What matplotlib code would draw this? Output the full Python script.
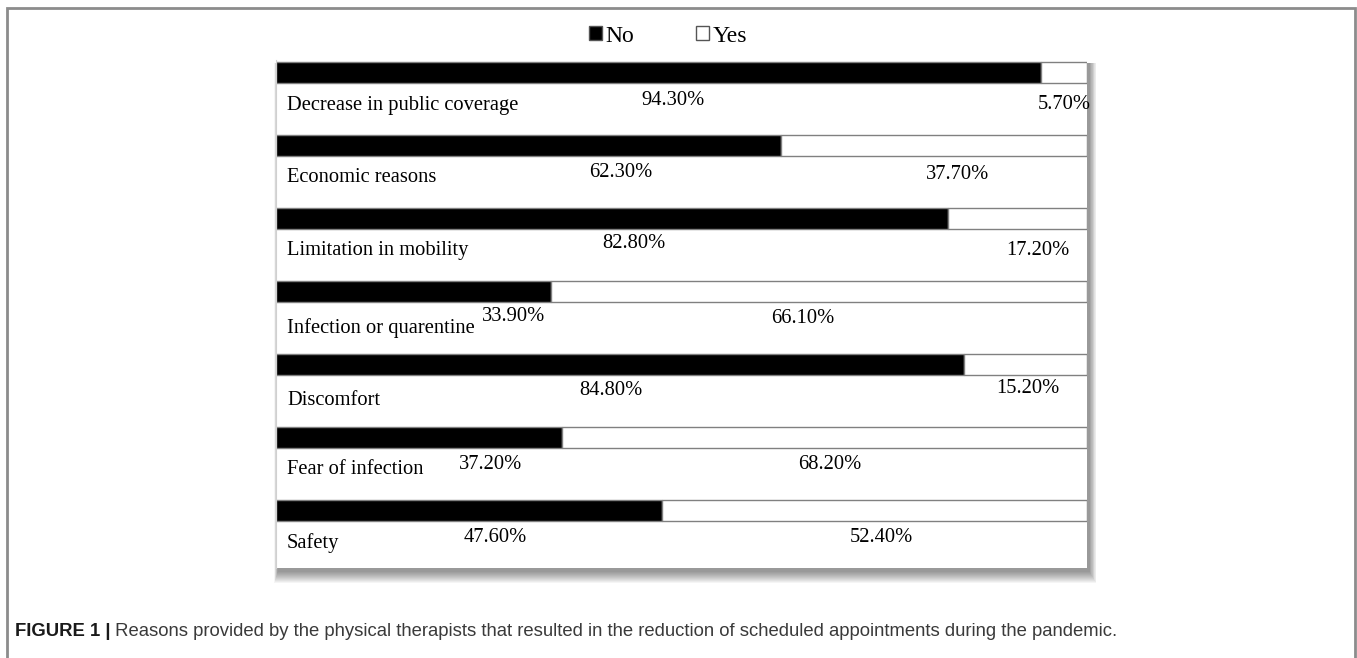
#!/usr/bin/python
"""Recreate the 'Reasons provided by the physical therapists' stacked bar figure."""

import matplotlib.pyplot as plt
from matplotlib.patches import Patch, Rectangle

categories = ['Decrease in public coverage', 'Economic reasons', 'Limitation in mobility',
              'Infection or quarentine', 'Discomfort', 'Fear of infection', 'Safety']
no_pct = [94.3, 62.3, 82.8, 33.9, 84.8, 37.2, 47.6]
yes_pct = [5.7, 37.7, 17.2, 66.1, 15.2, 68.2, 52.4]

# hand placed label spots (x in % of bar, y in px below bar centre), as in the original
no_lbl_x = [49.0, 42.5, 44.1, 29.3, 41.3, 26.4, 27.0]
yes_lbl_x = [97.2, 84.1, 94.0, 65.0, 92.7, 68.3, 74.6]
no_lbl_dy = [28, 27, 25, 25, 26, 27, 27]
yes_lbl_dy = [32, 29, 32, 27, 24, 27, 27]
cat_lbl_dy = [33, 32, 32, 37, 36, 32, 33]

W, H = 1357, 658
fig = plt.figure(figsize=(W / 100, H / 100), dpi=100)
serif = 'Liberation Serif'
fs = 14.8

# outer frame of the figure page
fig.patches.append(Rectangle((7 / W, -0.02), (1355 - 7) / W, 1 - 8 / H + 0.02,
                             transform=fig.transFigure, fill=False,
                             edgecolor='#8c8c8c', lw=2, zorder=-5))

# chart panel with a soft drop shadow
px0, px1, py0, py1 = 276, 1087, 60, 568
for k in range(12, 0, -1):
    fig.patches.append(Rectangle(((px0 + 2 - k * 0.3) / W, 1 - (py1 + 3 + k) / H),
                                 (px1 - px0 + k * 0.9) / W, (py1 - py0 + k) / H,
                                 transform=fig.transFigure, facecolor='black',
                                 edgecolor='none', alpha=0.04, zorder=-2))

ax = fig.add_axes([px0 / W, 1 - py1 / H, (px1 - px0) / W, (py1 - py0) / H])
ax.set_facecolor('white')
pitch = 73.0
first_c = 72.5
ax.set_xlim(0, 100)
ax.set_ylim((py1 - first_c) / pitch, (py0 - first_c) / pitch)
for s in ax.spines.values():
    s.set_visible(False)
ax.spines['left'].set_visible(True)
ax.spines['left'].set_color('#d0d0d0')
ax.set_xticks([])
ax.set_yticks([])

rows = list(range(len(categories)))
tot = [n + y for n, y in zip(no_pct, yes_pct)]
no_w = [n / t * 100 for n, t in zip(no_pct, tot)]
yes_w = [y / t * 100 for y, t in zip(yes_pct, tot)]

ax.barh(rows, no_w, height=21 / pitch, color='black', edgecolor='#808080', lw=1)
ax.barh(rows, yes_w, left=no_w, height=21 / pitch, color='white', edgecolor='#808080', lw=1)

for i, cat in enumerate(categories):
    ax.text(1.36, i + cat_lbl_dy[i] / pitch, cat, ha='left', va='center',
            family=serif, fontsize=fs)
    ax.text(no_lbl_x[i], i + no_lbl_dy[i] / pitch, f'{no_pct[i]:.2f}%', ha='center',
            va='center', family=serif, fontsize=fs)
    ax.text(yes_lbl_x[i], i + yes_lbl_dy[i] / pitch, f'{yes_pct[i]:.2f}%', ha='center',
            va='center', family=serif, fontsize=fs)

handles = [Patch(facecolor='black', edgecolor='#555555', label='No'),
           Patch(facecolor='white', edgecolor='#555555', label='Yes')]
fig.legend(handles=handles, loc='center', bbox_to_anchor=(668 / W, 1 - 36 / H), ncol=2,
           frameon=False, prop={'family': serif, 'size': 17}, handlelength=0.55,
           handleheight=0.55, handletextpad=0.15, columnspacing=2.6)

# caption
t1 = fig.text(15 / W, 1 - 636 / H, 'FIGURE 1 |', family='Liberation Sans', weight='bold',
              fontsize=13.35, color='#1a1a1a', ha='left', va='baseline')
ax.annotate(' Reasons provided by the physical therapists that resulted in the reduction of '
            'scheduled appointments during the pandemic.', xy=(1, 0), xycoords=t1,
            xytext=(0, 0), textcoords='offset points', ha='left', va='bottom',
            family='Liberation Sans', fontsize=13.35, color='#3a3a3a', annotation_clip=False)

fig.savefig('out.png', dpi=100)
